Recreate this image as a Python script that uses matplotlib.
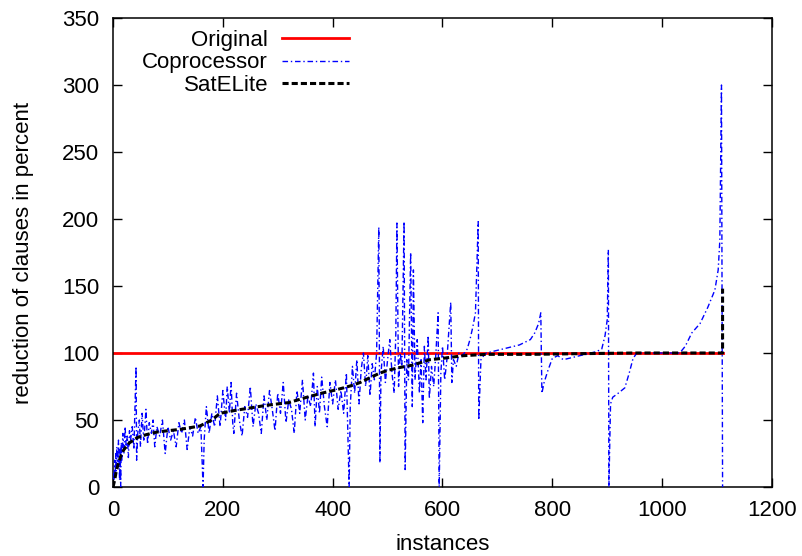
import matplotlib
matplotlib.use("Agg")
import matplotlib.pyplot as plt

plt.rcParams['font.family'] = ['Liberation Sans', 'DejaVu Sans']

orig_x = [0, 1110]
orig_y = [100, 100]

satelite_x = [0, 3, 6, 10, 15, 20, 30, 45, 60, 80, 100, 122, 158, 180, 195, 220, 250, 280, 320, 353, 380, 401, 420, 437, 450, 460, 470, 486, 500, 520, 546, 577, 600, 638, 680, 760, 850, 950, 1050, 1110, 1110]
satelite_y = [0, 5, 12, 18, 24, 28, 33, 37, 39, 41, 42, 43, 45.5, 50, 55, 57, 59, 61, 63, 67, 70, 72, 74, 76, 78, 80, 82, 85, 87, 89, 91, 95, 96, 98, 99, 99, 99.5, 100, 100, 100, 148]

coproc_x = [0, 1, 2, 3, 4, 5, 6, 7, 8, 9, 10, 11, 12, 13, 14, 15, 16, 18, 20, 22, 24, 26, 28, 30,
            32, 35, 38, 40, 42, 43, 45, 48, 50, 53, 56, 58, 60, 63, 66, 70, 73, 76, 80, 85, 90, 95,
            100, 105, 110, 115, 120, 125, 130, 135, 140, 145, 150, 155, 160, 164, 166, 170, 175, 180,
            185, 190, 195, 200, 205, 208, 212, 215, 218,
            220, 225, 230, 235, 240, 245, 250, 255, 260, 265, 270, 275, 280, 285, 290, 295, 300, 305,
            310, 315, 320, 325, 330, 335, 340, 345, 350, 355, 360, 365, 368, 372, 376, 380, 385, 390,
            395, 400, 405, 410, 415, 420, 425, 430, 432, 436, 440, 444, 448, 452, 456, 460, 464, 468,
            472, 476, 480, 484, 486, 488, 492, 496, 500, 504, 508, 512, 515, 517, 520, 523, 526, 530,
            532, 535, 538, 542, 545, 547, 550, 554, 558, 561, 564, 567, 570, 574, 576, 580, 584, 588,
            592, 594, 597, 600, 604, 608, 612, 615, 617, 620, 625, 630, 635, 640, 645, 650, 655, 660,
            665, 666, 670, 675, 680, 690, 700, 710, 720, 730, 740, 750, 760, 768, 775, 779, 781, 785,
            792, 800, 810, 820, 830, 840, 850, 860, 870, 880, 890, 896, 900, 902, 903, 906, 910, 920,
            932, 940, 947, 954, 1000, 1032, 1042, 1054, 1069, 1083, 1096, 1102, 1105, 1108, 1110]
coproc_y = [0, 10, 5, 20, 8, 25, 12, 30, 15, 22, 35, 18, 5, 28, 0, 33, 20, 40, 25, 45, 30, 38, 22, 42,
            35, 45, 28, 60, 90, 20, 40, 50, 30, 55, 35, 45, 58, 32, 48, 40, 50, 30, 45, 38, 50, 25,
            45, 35, 42, 30, 48, 40, 50, 28, 45, 38, 52, 40, 45, 0, 35, 60, 40, 55,
            45, 68, 45, 72, 50, 75, 55, 78, 48,
            40, 70, 50, 38, 60, 52, 75, 45, 62, 55, 40, 68, 50, 72, 58, 42, 70, 55,
            78, 48, 65, 58, 40, 72, 55, 80, 50, 68, 60, 85, 45, 75, 55, 82, 60, 45,
            78, 62, 80, 58, 72, 55, 85, 0, 60, 90, 70, 95, 62, 88, 100, 75, 98, 68,
            92, 80, 100, 194, 18, 85, 105, 78, 95, 110, 85, 70, 115, 197, 75, 100, 90, 198,
            13, 95, 80, 175, 60, 162, 80, 110, 70, 95, 48, 105, 80, 113, 66, 90, 75, 100,
            130, 0, 85, 105, 80, 95, 120, 138, 78, 95, 90, 100, 98, 100, 103, 110, 119, 130,
            198, 50, 95, 98, 100, 101, 102, 103, 104, 105, 106, 108, 110, 115, 122, 130, 70, 78,
            87, 96, 98, 95, 96, 97, 98, 99, 100, 101, 103, 113, 125, 177, 0, 62, 67, 70,
            74, 85, 96, 100, 100, 100, 105, 115, 122, 134, 147, 162, 184, 300, 0]

x_ticks = [0, 200, 400, 600, 800, 1000, 1200]
y_ticks = [0, 50, 100, 150, 200, 250, 300, 350]

FS = 16

fig = plt.figure(figsize=(8.03, 5.56), dpi=100)
ax = fig.add_axes([113/803, 1-487/556, 659/803, 469/556])

ax.plot(orig_x, orig_y, color='#ff0000', lw=2.0, label='Original', zorder=2)
ax.plot(coproc_x, coproc_y, color='#0000ff', lw=1.0, linestyle=(0, (4, 2, 1, 2)),
        label='Coprocessor', zorder=3)
ax.plot(satelite_x, satelite_y, color='black', lw=2.2, linestyle=(0, (2, 1)),
        label='SatELite', zorder=4)

ax.set_xlim(0, 1200)
ax.set_ylim(0, 350)
ax.set_xticks(x_ticks)
ax.set_yticks(y_ticks)
ax.tick_params(direction='in', top=True, right=True, length=6.5, width=1.0,
               labelsize=FS)
ax.tick_params(axis='x', pad=9)
ax.tick_params(axis='y', pad=10)
for s in ax.spines.values():
    s.set_linewidth(1.1)

ax.set_xlabel('instances', fontsize=FS, labelpad=10)
ax.set_ylabel('reduction of clauses in percent', fontsize=FS, labelpad=20)

ax.legend(loc='upper right', bbox_to_anchor=(0.3786, 1.0035), frameon=False,
          markerfirst=False, fontsize=FS, handlelength=3.0, handletextpad=0.65,
          labelspacing=0.08, borderaxespad=0.2)

fig.savefig('out.png', dpi=100)
